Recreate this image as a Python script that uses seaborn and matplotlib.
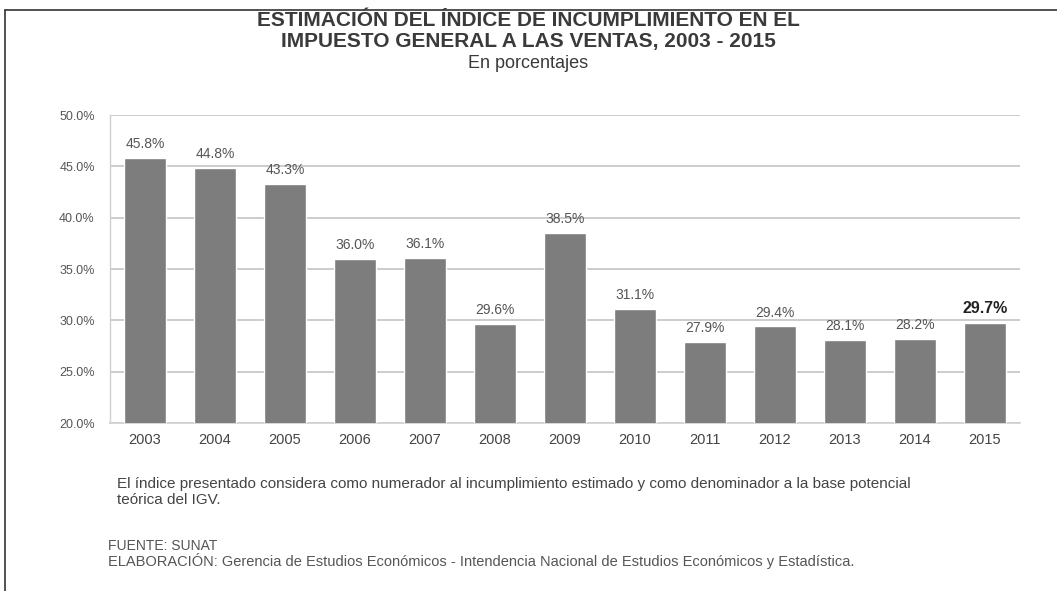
import matplotlib
matplotlib.use("Agg")
import matplotlib.pyplot as plt
import seaborn as sns
import pandas as pd
import numpy as np

years = ["2003", "2004", "2005", "2006", "2007", "2008", "2009",
         "2010", "2011", "2012", "2013", "2014", "2015"]
rates = [45.8, 44.8, 43.3, 36.0, 36.1, 29.6, 38.5, 31.1, 27.9, 29.4, 28.1, 28.2, 29.7]
y_ticks = [20, 25, 30, 35, 40, 45, 50]

title_lines = ["ESTIMACIÓN DEL ÍNDICE DE INCUMPLIMIENTO EN EL",
               "IMPUESTO GENERAL A LAS VENTAS, 2003 - 2015"]
subtitle = "En porcentajes"
note = ("El índice presentado considera como numerador al incumplimiento estimado y como denominador a la base potencial\n"
        "teórica del IGV.")
source = "FUENTE: SUNAT"
credits = "ELABORACIÓN: Gerencia de Estudios Económicos - Intendencia Nacional de Estudios Económicos y Estadística."

sns.set_theme(style="white")
plt.rcParams["font.family"] = ["Liberation Sans", "DejaVu Sans"]

df = pd.DataFrame({"year": years, "rate": rates})

fig = plt.figure(figsize=(10.57, 5.91), dpi=100)
ax = fig.add_axes([110 / 1057, 1 - 423 / 591, 910 / 1057, (423 - 115) / 591])

sns.barplot(data=df, x="year", y="rate", color="#7d7d7d", width=0.6,
            saturation=1, ax=ax, zorder=3)
ax.set_ylim(20, 50)
ax.set_xlim(-0.5, 12.5)
ax.set_yticks(y_ticks)
ax.set_yticklabels([f"{v:.1f}%" for v in y_ticks], color="#555555", fontsize=9)
ax.tick_params(axis="x", colors="#444444", labelsize=10.5, length=0, pad=7)
ax.tick_params(axis="y", length=0, pad=11)
ax.set_xlabel("")
ax.set_ylabel("")
ax.grid(axis="y", color="#c4c4c4", linewidth=1.2, zorder=0)
for s in ["top", "right"]:
    ax.spines[s].set_visible(False)
ax.spines["left"].set_color("#cfcfcf")
ax.spines["bottom"].set_color("#cfcfcf")
ax.spines["left"].set_linewidth(1)
ax.spines["bottom"].set_linewidth(1.2)
ax.set_xticks(np.arange(-0.5, 13, 1), minor=True)
ax.tick_params(axis="x", which="minor", length=4, color="#cfcfcf", width=1)

for i, (bar, v) in enumerate(zip(ax.patches, rates)):
    last = i == len(rates) - 1
    ax.annotate(f"{v:.1f}%", (bar.get_x() + bar.get_width() / 2, v),
                xytext=(0, 5), textcoords="offset points", ha="center", va="bottom",
                fontsize=11.5 if last else 10, fontweight="bold" if last else "normal",
                color="#222222" if last else "#555555")

fig.text(0.5, 1 - 21 / 591, title_lines[0], ha="center", va="center",
         fontsize=15, fontweight="bold", color="#3a3a3a")
fig.text(0.5, 1 - 42 / 591, title_lines[1], ha="center", va="center",
         fontsize=15, fontweight="bold", color="#3a3a3a")
fig.text(0.5, 1 - 64 / 591, subtitle, ha="center", va="center",
         fontsize=13, color="#3a3a3a")

fig.text(117 / 1057, 1 - 492 / 591, note, ha="left", va="center",
         fontsize=11, color="#444444", linespacing=1.1)
fig.text(108 / 1057, 1 - 546 / 591, source, ha="left", va="center",
         fontsize=10, color="#555555")
fig.text(108 / 1057, 1 - 561 / 591, credits, ha="left", va="center",
         fontsize=10.5, color="#555555")

# outer frame (left and top edges)
fig.add_artist(plt.Line2D([5 / 1057, 5 / 1057], [0, 1 - 10 / 591],
                          transform=fig.transFigure, color="#333333", linewidth=1.2))
fig.add_artist(plt.Line2D([5 / 1057, 1], [1 - 10 / 591, 1 - 10 / 591],
                          transform=fig.transFigure, color="#333333", linewidth=1.2))

fig.savefig("out.png", dpi=100, facecolor="white")
